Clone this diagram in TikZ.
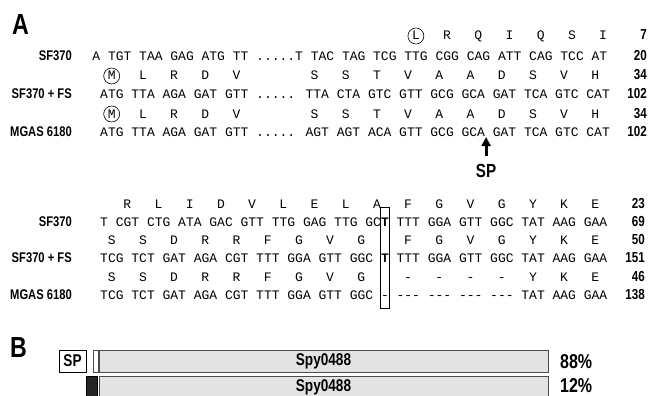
\documentclass[tikz,border=0pt]{standalone}
\usepackage{fontspec}
\usetikzlibrary{arrows.meta}
\setmainfont{Liberation Sans}
\newfontfamily\seqfont{Liberation Mono}
\newfontfamily\lblfont[FakeStretch=0.8]{Liberation Sans}
\newcommand{\xo}{100}
\newcommand{\cw}{7.8}

\begin{document}
\begin{tikzpicture}[
    x=1pt, y=-1pt,
    seq/.style={anchor=base west, inner sep=0pt,
        font=\seqfont\fontsize{13}{15}\selectfont},
    aa/.style={anchor=base, inner sep=0pt,
        font=\seqfont\fontsize{13}{15}\selectfont},
    strain/.style={anchor=base east, inner sep=0pt,
        font=\lblfont\bfseries\fontsize{14}{16}\selectfont},
    count/.style={anchor=base east, inner sep=0pt,
        font=\lblfont\bfseries\fontsize{14.5}{16}\selectfont},
    panel/.style={anchor=base west, inner sep=0pt,
        font=\lblfont\bfseries\fontsize{29}{32}\selectfont},
    ring/.style={draw, circle, line width=0.6pt, minimum size=16pt, inner sep=0pt},
    colbox/.style={draw, line width=0.6pt},
    cutarrow/.style={-{Triangle[width=9pt,length=9pt]}, line width=3pt},
    bar/.style={draw=gray!60!black, fill=gray!22, line width=0.8pt,
        minimum height=22pt, inner sep=0pt,
        font=\lblfont\bfseries\fontsize{17}{19}\selectfont},
    percent/.style={anchor=west, inner sep=0pt,
        font=\lblfont\bfseries\fontsize{20}{22}\selectfont}
]
    \useasboundingbox (0,0) rectangle (648,396);
    \clip (0,0) rectangle (648,396);

    % Panel A, first block
    \node[panel] (pA) at (12,35) {A};

    \foreach \c/\a in {40/L,44/R,48/Q,52/I,56/Q,60/S,64/I}
        \node[aa] (aa1-\c) at ({\xo+(\c+0.5)*\cw},40) {\a};
    \node[ring] (ringL) at ({\xo+40.5*\cw},36) {};

    \node[strain] (s1) at (72,61) {SF370};
    \node[seq] (n1) at ({\xo-\cw},61)
        {A TGT TAA GAG ATG TT .....T TAC TAG TCG TTG CGG CAG ATT CAG TCC AT};

    \foreach \c/\a in {1/M,5/L,9/R,13/D,17/V,27/S,31/S,35/T,39/V,43/A,47/A,51/D,55/S,59/V,63/H}
        \node[aa] (aa2-\c) at ({\xo+(\c+0.5)*\cw},80) {\a};
    \node[ring] (ringM1) at ({\xo+1.5*\cw},76) {};

    \node[strain] (s2) at (72,99) {SF370 + FS};
    \node[seq] (n2) at (\xo,99)
        {ATG TTA AGA GAT GTT ..... TTA CTA GTC GTT GCG GCA GAT TCA GTC CAT};

    \foreach \c/\a in {1/M,5/L,9/R,13/D,17/V,27/S,31/S,35/T,39/V,43/A,47/A,51/D,55/S,59/V,63/H}
        \node[aa] (aa3-\c) at ({\xo+(\c+0.5)*\cw},118) {\a};
    \node[ring] (ringM2) at ({\xo+1.5*\cw},114) {};

    \node[strain] (s3) at (72,136) {MGAS 6180};
    \node[seq] (n3) at (\xo,136)
        {ATG TTA AGA GAT GTT ..... AGT AGT ACA GTT GCG GCA GAT TCA GTC CAT};

    \node[count] (c1) at (647,40) {7};
    \node[count] (c2) at (647,61) {20};
    \node[count] (c3) at (647,80) {34};
    \node[count] (c4) at (647,99) {102};
    \node[count] (c5) at (647,118) {34};
    \node[count] (c6) at (647,136) {102};

    % Signal peptide cut
    \coordinate (cut) at ({\xo+49.5*\cw},137);
    \node[strain, anchor=base, font=\lblfont\bfseries\fontsize{19}{21}\selectfont]
        (splbl) at ({\xo+49.5*\cw},177) {SP};
    \draw[cutarrow, shorten <=8pt] (splbl.north) -- (cut);

    % Panel A, second block
    \foreach \c/\a in {3/R,7/L,11/I,15/D,19/V,23/L,27/E,31/L,35/A,39/F,43/G,47/V,51/G,55/Y,59/K,63/E}
        \node[aa] (aa4-\c) at ({\xo+(\c+0.5)*\cw},208) {\a};

    \node[strain] (s4) at (72,226) {SF370};
    \node[seq] (n4) at (\xo,226)
        {T CGT CTG ATA GAC GTT TTG GAG TTG GC\textbf{T} TTT GGA GTT GGC TAT AAG GAA};

    \foreach \c/\a in {1/S,5/S,9/D,13/R,17/R,21/F,25/G,29/V,33/G,39/F,43/G,47/V,51/G,55/Y,59/K,63/E}
        \node[aa] (aa5-\c) at ({\xo+(\c+0.5)*\cw},244) {\a};

    \node[strain] (s5) at (72,262) {SF370 + FS};
    \node[seq] (n5) at (\xo,262)
        {TCG TCT GAT AGA CGT TTT GGA GTT GGC \textbf{T} TTT GGA GTT GGC TAT AAG GAA};

    \foreach \c/\a in {1/S,5/S,9/D,13/R,17/R,21/F,25/G,29/V,33/G,39/-,43/-,47/-,51/-,55/Y,59/K,63/E}
        \node[aa] (aa6-\c) at ({\xo+(\c+0.5)*\cw},281) {\a};

    \node[strain] (s6) at (72,299) {MGAS 6180};
    \node[seq] (n6) at (\xo,299)
        {TCG TCT GAT AGA CGT TTT GGA GTT GGC - -{}-{}- -{}-{}- -{}-{}- -{}-{}- TAT AAG GAA};

    \node[count] (c7) at (645,208) {23};
    \node[count] (c8) at (645,226) {69};
    \node[count] (c9) at (645,244) {50};
    \node[count] (c10) at (645,262) {151};
    \node[count] (c11) at (645,281) {46};
    \node[count] (c12) at (645,299) {138};

    \coordinate (boxtop) at ({\xo+36*\cw-0.5},207);
    \coordinate (boxbot) at ({\xo+37*\cw+0.5},308);
    \draw[colbox] (boxtop) rectangle (boxbot);

    % Panel B
    \node[panel] (pB) at (10,357) {B};

    \node[bar, fill=white, draw=black, minimum width=27pt] (spbox) at (72.5,361) {SP};
    \node[bar, fill=white, minimum width=5pt] (gap) at (95.5,361) {};
    \node[bar, minimum width=449pt] (bar1) at (323.5,361) {Spy0488};
    \node[percent] (p1) at (560,362) {88\%};

    \node[bar, fill=black!85, draw=black, minimum width=11pt] (mark) at (91.5,387) {};
    \node[bar, minimum width=449pt] (bar2) at (323.5,387) {Spy0488};
    \node[percent] (p2) at (560,385.5) {12\%};

\end{tikzpicture}
\end{document}
